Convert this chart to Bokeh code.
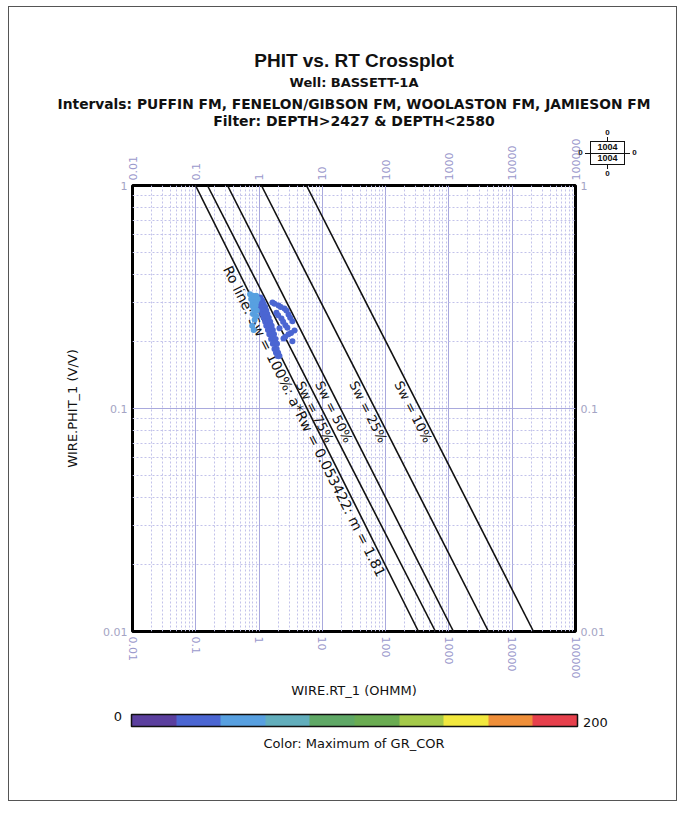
import math
from bokeh.plotting import figure
from bokeh.models import (LogAxis, FixedTicker, Range1d, ColumnDataSource, Title,
                          ColorBar, LinearColorMapper, Div, GridBox)
from bokeh.embed import file_html
from bokeh.resources import INLINE
from bokeh.core.properties import value

# ---------------- data ----------------
title_text = "PHIT vs. RT Crossplot"
well_text = "Well: BASSETT-1A"
intervals_text = "Intervals: PUFFIN FM, FENELON/GIBSON FM, WOOLASTON FM, JAMIESON FM"
filter_text = "Filter: DEPTH>2427 & DEPTH<2580"
x_axis_label = "WIRE.RT_1 (OHMM)"
y_axis_label = "WIRE.PHIT_1 (V/V)"
color_label = "Color: Maximum of GR_COR"

x_ticks = [0.01, 0.1, 1, 10, 100, 1000, 10000, 100000]
x_tick_labels = ["0.01", "0.1", "1", "10", "100", "1000", "10000", "100000"]
y_ticks = [0.01, 0.1, 1]
y_tick_labels = ["0.01", "0.1", "1"]

# Pickett lines: Rt where each line meets PHIT = 1 and PHIT = 0.01
line_labels = ["Ro line: Sw = 100%: a*Rw = 0.053422: m = 1.81",
               "Sw = 75%", "Sw = 50%", "Sw = 25%", "Sw = 10%"]
rt_at_phi_top = [0.099, 0.153, 0.317, 1.09, 5.61]
rt_at_phi_bottom = [330, 613, 1180, 4220, 21700]

# crossplot points (RT, PHIT, GR)
rt_ohmm = [0.95, 1.05, 0.95, 1.05, 1.12, 1.0, 1.1, 1.18, 1.05, 1.15, 1.25,
           1.08, 1.2, 1.3, 1.12, 1.25, 1.35, 1.18, 1.3, 1.42, 1.25, 1.38, 1.5,
           1.3, 1.45, 1.58, 1.38, 1.52, 1.65, 1.45, 1.6, 1.72, 1.55, 1.7, 1.82,
           1.65, 1.8, 1.92, 1.75, 1.9, 1.85, 2.0, 1.95, 2.1,
           1.63, 2.03, 2.52, 1.88, 2.92, 2.26, 3.37, 2.61, 2.10, 3.63, 2.92,
           2.43, 3.37, 1.75, 2.2, 2.7, 2.0, 3.1, 2.4, 2.8, 3.2, 2.6,
           0.72, 0.8, 0.9, 0.75, 0.85, 0.95, 0.8, 0.9, 0.78, 0.88, 0.82, 0.92,
           0.8, 0.9, 0.85, 0.78, 0.82]
phit_vv = [0.315, 0.315, 0.305, 0.305, 0.305, 0.295, 0.295, 0.295, 0.285, 0.285, 0.285,
           0.275, 0.275, 0.275, 0.265, 0.265, 0.265, 0.255, 0.255, 0.255, 0.245, 0.245, 0.245,
           0.235, 0.235, 0.235, 0.225, 0.225, 0.225, 0.215, 0.215, 0.215, 0.205, 0.205, 0.205,
           0.195, 0.195, 0.195, 0.185, 0.185, 0.178, 0.178, 0.172, 0.172,
           0.299, 0.290, 0.281, 0.269, 0.264, 0.253, 0.246, 0.236, 0.229, 0.224, 0.215,
           0.206, 0.200, 0.295, 0.285, 0.275, 0.262, 0.255, 0.245, 0.23, 0.218, 0.21,
           0.325, 0.32, 0.32, 0.31, 0.31, 0.31, 0.30, 0.30, 0.29, 0.29, 0.28, 0.275,
           0.265, 0.26, 0.25, 0.235, 0.225]
gr_api = [30] * 44 + [32] * 22 + [50] * 17

gr_low, gr_high = 0, 200
gr_palette = ["#5b3f9e", "#4b66d2", "#58a0e0", "#62aebc", "#5fa866",
              "#6aac52", "#a4c94a", "#f2e83e", "#ef8f3a", "#e6404c"]

# quadrant point counts (upper box, lower box, top, bottom, left, right)
quad_counts = [1004, 1004, 0, 0, 0, 0]

# ---------------- layout constants ----------------
PAGE_W, PAGE_H = 684, 816
FRAME_L, FRAME_R, FRAME_T, FRAME_B = 132, 575, 185, 631
FONT = "DejaVu Sans"
label_phit = [0.091, 0.1, 0.1, 0.1, 0.1]   # where each line label is centred

mapper = LinearColorMapper(palette=gr_palette, low=gr_low, high=gr_high)

p = figure(width=PAGE_W, height=PAGE_H, x_axis_type="log", y_axis_type="log",
           x_range=Range1d(x_ticks[0], x_ticks[-1]),
           y_range=Range1d(y_ticks[0], y_ticks[-1]),
           output_backend="svg", toolbar_location=None, title_location=None,
           min_border_left=FRAME_L, min_border_right=PAGE_W - FRAME_R,
           min_border_top=FRAME_T, min_border_bottom=PAGE_H - FRAME_B,
           background_fill_color="white", border_fill_color="white")
p.outline_line_color = "black"
p.outline_line_width = 3

minor_x = [m * 10.0 ** e for e in range(-2, 5) for m in range(2, 10)]
minor_y = [m * 10.0 ** e for e in range(-2, 0) for m in range(2, 10)]
xt = FixedTicker(ticks=x_ticks, minor_ticks=minor_x)
yt = FixedTicker(ticks=y_ticks, minor_ticks=minor_y)

bottom_axis = p.below[0]
left_axis = p.left[0]
top_axis = LogAxis()
right_axis = LogAxis()
p.add_layout(top_axis, "above")
p.add_layout(right_axis, "right")


def style_axis(ax, ticker, ticks, labels, orient, color):
    ax.ticker = ticker
    ax.major_label_overrides = {t: l for t, l in zip(ticks, labels)}
    ax.major_label_orientation = orient
    ax.axis_line_color = None
    ax.major_tick_line_color = None
    ax.minor_tick_line_color = None
    ax.major_tick_out = 0
    ax.major_tick_in = 0
    ax.minor_tick_out = 0
    ax.minor_tick_in = 0
    ax.major_label_text_color = color
    ax.major_label_text_font = FONT
    ax.major_label_text_font_size = "11px"
    ax.major_label_standoff = 5


style_axis(bottom_axis, xt, x_ticks, x_tick_labels, -math.pi / 2, "#9a98cc")
style_axis(top_axis, xt, x_ticks, x_tick_labels, math.pi / 2, "#9a98cc")
style_axis(left_axis, yt, y_ticks, y_tick_labels, "horizontal", "#a4a4c4")
style_axis(right_axis, yt, y_ticks, y_tick_labels, "horizontal", "#a4a4c4")

for ax, lab, stand in ((bottom_axis, x_axis_label, 2), (left_axis, y_axis_label, 20)):
    ax.axis_label = lab
    ax.axis_label_text_font = FONT
    ax.axis_label_text_font_size = "13px"
    ax.axis_label_text_font_style = "normal"
    ax.axis_label_text_color = "#111111"
    ax.axis_label_standoff = stand

for g, t in ((p.xgrid[0], xt), (p.ygrid[0], yt)):
    g.ticker = t
    g.grid_line_color = "#a9a9dd"
    g.grid_line_width = 1
    g.minor_grid_line_color = "#c2c2ea"
    g.minor_grid_line_dash = "2 2"

# header titles (stacked outward from the top axis)
for txt_, size, font, stand in ((filter_text, "14px", FONT, 14),
                                (intervals_text, "13.8px", FONT, -17),
                                (well_text, "13px", FONT, 26),
                                (title_text, "19px", "Liberation Sans", -23)):
    p.add_layout(Title(text=txt_, align="center", text_font=font, text_font_size=size,
                       text_font_style="bold", text_color="#111111", standoff=stand), "above")

# colour bar + its caption below the bottom axis
cbar = ColorBar(color_mapper=mapper, orientation="horizontal", width=446, height=12,
                location="center", ticker=FixedTicker(ticks=[]), margin=0, padding=13,
                major_tick_line_color=None, bar_line_color="#111111", bar_line_width=1.5,
                background_fill_color=None, border_line_color=None,
                major_label_text_font_size="1px")
p.add_layout(cbar, "below")
p.add_layout(Title(text=color_label, align="center", text_font=FONT, text_font_size="13px",
                   text_font_style="normal", text_color="#111111", standoff=-12), "below")

# Pickett lines
p.multi_line(xs=[[a, b] for a, b in zip(rt_at_phi_top, rt_at_phi_bottom)],
             ys=[[y_ticks[-1], y_ticks[0]] for _ in line_labels],
             line_color="#111111", line_width=1.6)

ppd_x = (FRAME_R - FRAME_L) / math.log10(x_ticks[-1] / x_ticks[0])
ppd_y = (FRAME_B - FRAME_T) / math.log10(y_ticks[-1] / y_ticks[0])
lab_x = [a * (b / a) ** (math.log10(y_ticks[-1] / ph) / math.log10(y_ticks[-1] / y_ticks[0]))
         for a, b, ph in zip(rt_at_phi_top, rt_at_phi_bottom, label_phit)]
lab_ang = [-math.atan2(ppd_y * math.log10(y_ticks[-1] / y_ticks[0]),
                       ppd_x * math.log10(b / a))
           for a, b in zip(rt_at_phi_top, rt_at_phi_bottom)]
for sl, fs in ((slice(0, 1), "14px"), (slice(1, None), "13px")):
    p.text(x=lab_x[sl], y=label_phit[sl], text=line_labels[sl], angle=lab_ang[sl],
           text_align="center", text_baseline="top", text_font=value(FONT),
           text_font_size=fs, text_color="#111111")

# points
src = ColumnDataSource(dict(rt=rt_ohmm, phit=phit_vv, gr=gr_api))
p.scatter(x="rt", y="phit", source=src, marker="circle", size=6,
          fill_color={"field": "gr", "transform": mapper}, line_color=None)


# ---------------- overlay: page frame, quadrant box, colour-bar end labels ----------------
def box(left, top, w, h, extra=""):
    return (f'<div style="position:absolute;left:{left}px;top:{top}px;width:{w}px;'
            f'height:{h}px;{extra}"></div>')


def txt(left, top, s, extra=""):
    return (f'<div style="position:absolute;left:{left}px;top:{top}px;'
            f'white-space:nowrap;{extra}">{s}</div>')


qfont = "font-family:'Liberation Sans';font-weight:bold;font-size:9px;line-height:11px;color:#111;"
ofont = "font-family:'Liberation Sans';font-weight:bold;font-size:8px;line-height:8px;color:#111;"
parts = [
    box(8, 6, 669, 795, "border:1px solid #555;box-sizing:border-box;"),
    # quadrant box
    box(590, 141, 35, 24, "border:1.5px solid #111;box-sizing:border-box;"),
    box(590, 153, 35, 1, "background:#111;"),
    txt(590, 142, str(quad_counts[0]), qfont + "width:35px;text-align:center;"),
    txt(590, 153, str(quad_counts[1]), qfont + "width:35px;text-align:center;"),
    box(607, 137, 1, 4, "background:#111;"),
    box(607, 165, 1, 4, "background:#111;"),
    box(585, 153, 5, 1, "background:#111;"),
    box(625, 153, 5, 1, "background:#111;"),
    txt(602, 129, str(quad_counts[2]), ofont + "width:11px;text-align:center;"),
    txt(602, 170, str(quad_counts[3]), ofont + "width:11px;text-align:center;"),
    txt(576, 149, str(quad_counts[4]), ofont + "width:9px;text-align:center;"),
    txt(630, 149, str(quad_counts[5]), ofont + "width:9px;text-align:center;"),
    # colour bar end labels
    txt(92, 709, str(gr_low), f"font-family:'{FONT}';font-size:13px;line-height:15px;width:30px;text-align:right;color:#111;"),
    txt(583, 715, str(gr_high), f"font-family:'{FONT}';font-size:13px;line-height:15px;color:#111;"),
]
overlay = Div(text='<div style="position:relative;width:684px;height:816px;">' + "".join(parts) + "</div>",
              width=PAGE_W, height=PAGE_H, margin=0)

layout = GridBox(children=[(p, 0, 0), (overlay, 0, 0)])
open("out.html", "w").write(file_html(layout, INLINE))
